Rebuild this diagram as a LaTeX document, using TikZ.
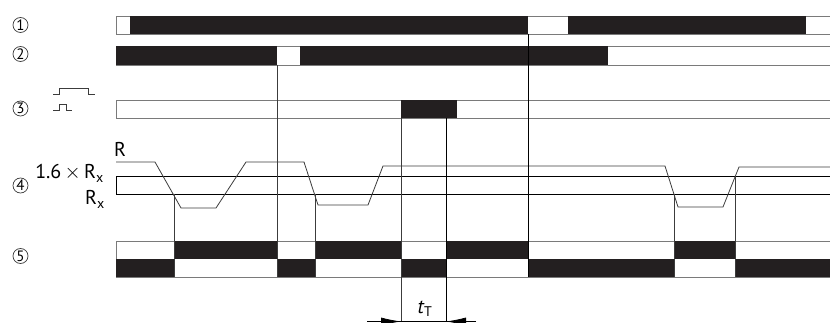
\documentclass[tikz,border=0pt]{standalone}
\usepackage{fontspec}
\setmainfont{PT Sans}
\usetikzlibrary{arrows.meta, positioning}

\definecolor{barblack}{HTML}{231F20}
\definecolor{rimgray}{HTML}{7A7A7A}
\definecolor{wiregray}{HTML}{3C3C3C}

\tikzset{%
   % outline of one timing row; the black parts are filled over it
   rowline/.style={
      draw=rimgray,
      line width=0.9pt
   },
   barfill/.style={
      fill=barblack
   },
   % switching instants, drawn through the rows
   edge/.style={
      draw=wiregray,
      line width=0.8pt
   },
   level/.style={
      draw=black,
      line width=0.8pt
   },
   rcurve/.style={
      draw=wiregray,
      line width=0.8pt
   },
   numcirc/.style={
      circle,
      draw=wiregray,
      line width=0.7pt,
      inner sep=0pt,
      minimum size=15pt,
      font=\fontsize{15}{15}\selectfont
   },
   lbl/.style={
      inner sep=0pt,
      font=\fontsize{20}{22}\selectfont
   },
}

\begin{document}
\begin{tikzpicture}[x=1pt, y=-1pt]
    \useasboundingbox (0,0) rectangle (830,323);
    \node[numcirc] (n1) at (20.5,25) {1};
    \node[numcirc] (n2) at (20.5,54) {2};
    \node[numcirc] (n3) at (20.5,108.5) {3};
    \node[numcirc] (n4) at (20.5,185.5) {4};
    \node[numcirc] (n5) at (20.5,256) {5};
    % pulse symbols
    \draw[edge, line width=1pt] (53,95) -- (59,95) -- (59,89) -- (88.5,89) -- (88.5,95) -- (95,95);
    \draw[edge, line width=1pt] (53,111) -- (59,111) -- (59,104.5) -- (66,104.5) -- (66,111) -- (72,111);
    % row 1
    \draw[rowline] (830,16) -- (116,16) -- (116,34) -- (830,34);
    \foreach \a/\b in {130/528, 568/806}
        \fill[barfill] (\a,16) rectangle (\b,34);
    % row 2
    \draw[rowline] (830,46) -- (116,46) -- (116,65) -- (830,65);
    \foreach \a/\b in {116/277, 300/608}
        \fill[barfill] (\a,46) rectangle (\b,65);
    % row 3
    \draw[rowline] (830,100) -- (116,100) -- (116,118) -- (830,118);
    \fill[barfill] (401,100) rectangle (457,118);
    % row 4
    \node[lbl, anchor=base west] (rl) at (114,157) {R};
    \node[lbl, anchor=base east] (rhi) at (104,179) {1.6\,$\times$\,R\textsubscript{x}};
    \node[lbl, anchor=base east] (rlo) at (105,205) {R\textsubscript{x}};
    \draw[level] (830,176.5) -- (116,176.5) -- (116,194) -- (830,194);
    \draw[rcurve] (116,162) -- (155,162) -- (181,208) -- (216,208) -- (246,162)
        -- (304,162) -- (318,205) -- (368,205) -- (383,166) -- (665,166)
        -- (678,207) -- (723,207) -- (739,167) -- (830,167);
    % row 5
    \draw[rowline] (830,241) -- (116,241) -- (116,277) -- (830,277);
    \foreach \a/\b in {174/277, 315/401, 446/528, 674/735}
        \fill[barfill] (\a,241) rectangle (\b,259);
    \foreach \a/\b in {116/174, 277/315, 401/446, 528/674, 735/830}
        \fill[barfill] (\a,259) rectangle (\b,277);
    % switching instants
    \draw[edge] (277,65) -- (277,277);
    \draw[level] (528,34) -- (528,277);
    \draw[edge] (174,194) -- (174,277);
    \draw[edge] (315,194) -- (315,277);
    \draw[edge] (674,194) -- (674,277);
    \draw[edge] (735,176.5) -- (735,277);
    % t_T
    \coordinate (tl) at (401,321.5);
    \coordinate (tr) at (446,321.5);
    \draw[edge] (401,118) -- (tl);
    \draw[level] (446,118) -- (tr);
    \draw[level] (367,321.5) -- (472,321.5);
    \draw[level, -{Latex[length=20pt, width=8pt]}] (371,321.5) -- (tl);
    \draw[level, -{Latex[length=20pt, width=8pt]}] (476,321.5) -- (tr);
    \node[lbl, anchor=base] (tt) at (425,313) {\itshape t\textsubscript{\upshape T}};
\end{tikzpicture}
\end{document}
